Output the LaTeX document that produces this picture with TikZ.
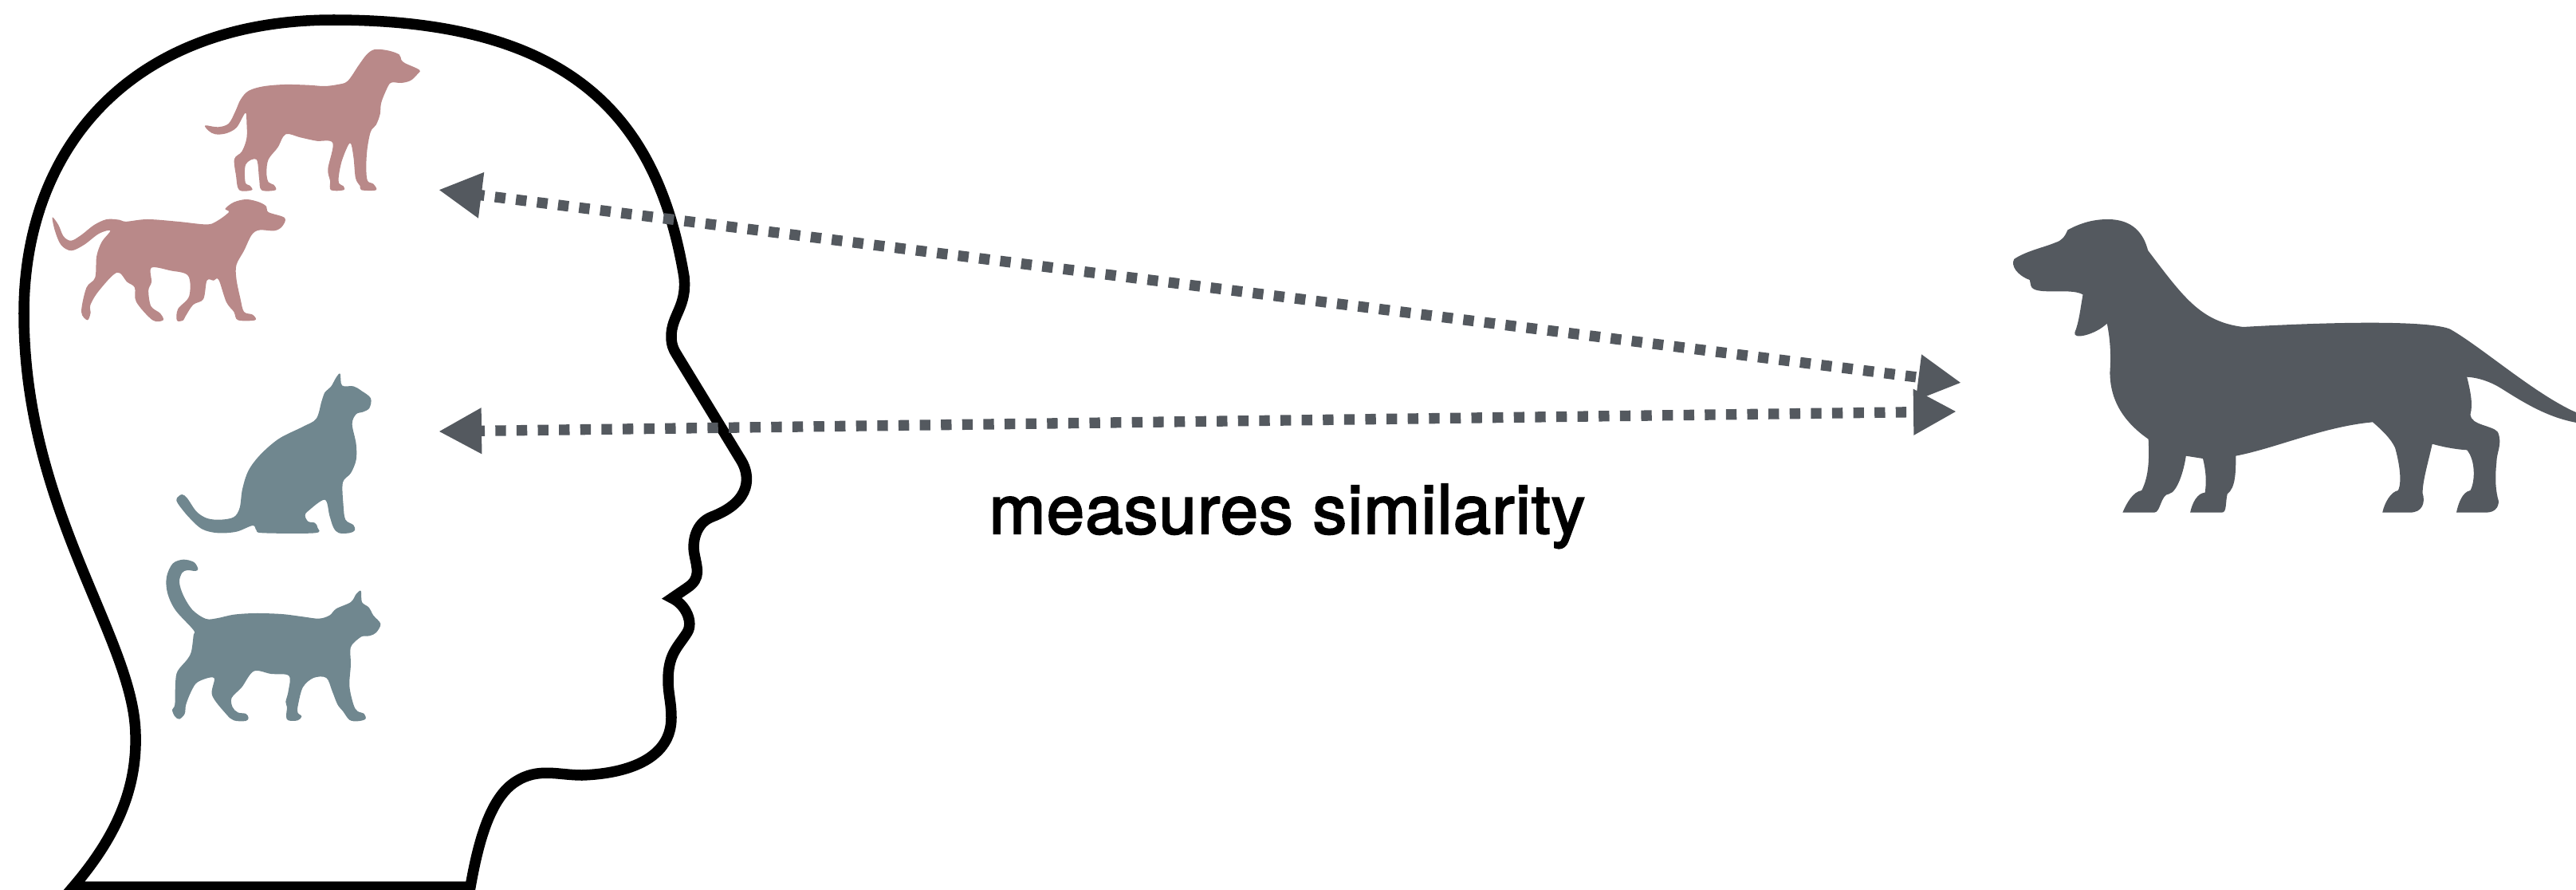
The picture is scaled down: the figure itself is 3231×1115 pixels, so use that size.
\documentclass[tikz,border=0pt]{standalone}
\usepackage{fontspec}
\usetikzlibrary{arrows.meta}
\newfontfamily\labelfont[FakeBold=2.5,LetterSpace=1.4]{TeX Gyre Heros}
\definecolor{dogpink}{HTML}{B98989}
\definecolor{catblue}{HTML}{70878F}
\definecolor{slate}{HTML}{54595F}

\begin{document}
\begin{tikzpicture}[>={Triangle[length=5.4mm,width=5.4mm]}, x=0.01cm, y=-0.01cm,
        dotline/.style={draw=slate, line width=1.33mm, dash pattern=on 1.33mm off 1.33mm, dash phase=0.6mm},
        outline/.style={draw=black, line width=1.35mm, line join=miter},
        smallplot/.style={smooth cycle, tension=0.55}]
        \useasboundingbox (0,0) rectangle (3231,1115);
        \coordinate (mem_dog) at (550,238);
        \coordinate (mem_cat) at (550,541);
        \coordinate (see_top) at (2460,480);
        \coordinate (see_low) at (2454,516);

        % head
        \path[outline] (92,1112) .. controls (145,1050) and (172,990) .. (170,921)
            .. controls (168,800) and (30,640) .. (30,393)
            .. controls (30,180) and (170,25) .. (418,25)
            .. controls (720,25) and (825,150) .. (858,347)
            .. controls (862,385) and (842,395) .. (842,422)
            .. controls (842,435) and (846,440) .. (852,450)
            -- (930,578)
            .. controls (940,595) and (945,628) .. (893,648)
            .. controls (872,656) and (868,680) .. (871,695)
            .. controls (874,712) and (880,725) .. (862,737)
            -- (843,750)
            .. controls (860,758) and (870,780) .. (862,793)
            .. controls (850,812) and (838,820) .. (838,853)
            .. controls (838,870) and (842,880) .. (842,900)
            .. controls (842,950) and (790,970) .. (730,972)
            .. controls (700,972) and (675,962) .. (647,980)
            .. controls (615,1000) and (600,1055) .. (590,1112)
            -- cycle;

        % dogs in the head
        \begin{scope}[shift={(180,40)}, scale=1/3]
            \path[fill=dogpink] plot[smallplot] coordinates {(232,352) (280,358) (320,345) (345,300) (365,255) (395,222) (450,205) (530,198) (620,200) (680,204) (730,198) (768,185) (810,125) (840,85) (870,66) (920,70) (962,85) (970,105) (985,118) (1038,143) (1030,160) (1005,183) (970,192) (935,190) (920,205) (895,265) (890,310) (875,350) (855,375) (842,440) (838,510) (843,560) (865,572) (875,595) (820,595) (815,580) (798,550) (790,470) (777,418) (748,480) (735,540) (736,570) (752,580) (753,595) (705,595) (702,560) (694,515) (712,418) (650,410) (590,397) (535,385) (505,435) (470,480) (463,530) (470,565) (490,575) (497,595) (444,595) (435,550) (425,480) (385,498) (383,565) (400,578) (408,595) (360,595) (348,540) (342,478) (370,450) (388,400) (388,340) (383,305) (350,360) (310,382) (270,385) (245,372)};
        \end{scope}
        \begin{scope}[xscale=1/1.568, yscale=1/2.8]
            \path[fill=dogpink] plot[smallplot] coordinates {(103,763) (115,790) (125,830) (140,845) (160,825) (185,790) (210,770) (235,772) (248,778) (290,770) (350,778) (405,788) (425,778) (450,745) (443,733) (460,710) (485,700) (510,710) (524,725) (528,745) (560,765) (555,795) (540,810) (510,808) (495,825) (480,880) (465,930) (465,980) (473,1050) (480,1095) (497,1105) (502,1124) (468,1124) (460,1095) (445,1060) (430,982) (420,985) (407,985) (400,1050) (380,1070) (365,1110) (360,1125) (348,1125) (350,1085) (372,1040) (370,968) (335,950) (298,940) (298,990) (292,1020) (297,1075) (315,1100) (321,1124) (300,1124) (268,1060) (265,1010) (250,990) (230,957) (195,1020) (178,1070) (178,1100) (172,1124) (160,1095) (170,1010) (187,975) (190,900) (200,850) (217,810) (195,820) (165,860) (140,880) (120,860) (108,810)};
        \end{scope}

        % cats in the head
        \begin{scope}[shift={(180,450)}, scale=1/3]
            \path[fill=catblue] plot[smallplot] coordinates {(125,525) (145,510) (165,525) (200,575) (240,600) (290,605) (340,595) (362,560) (372,490) (395,420) (440,360) (510,300) (600,255) (650,225) (670,160) (683,125) (705,105) (725,70) (740,56) (747,100) (790,103) (820,120) (855,148) (850,185) (825,200) (800,208) (785,245) (800,320) (800,380) (780,430) (750,465) (752,550) (760,605) (790,625) (795,645) (775,655) (735,655) (715,635) (700,590) (682,530) (620,572) (608,590) (620,612) (645,617) (655,635) (645,655) (450,655) (425,645) (411,627) (350,650) (280,655) (220,640) (170,595) (130,545)};
            \path[fill=catblue] plot[smallplot] coordinates {(205,790) (195,798) (165,795) (145,805) (135,840) (150,890) (185,945) (235,978) (280,975) (340,962) (420,957) (520,960) (600,970) (660,977) (700,965) (725,940) (780,915) (800,885) (818,873) (822,915) (848,935) (865,965) (892,997) (875,1030) (850,1042) (820,1045) (785,1075) (778,1100) (780,1150) (775,1230) (790,1300) (805,1325) (830,1335) (835,1355) (805,1363) (775,1358) (750,1325) (730,1300) (710,1250) (688,1200) (640,1200) (600,1235) (582,1300) (580,1330) (595,1345) (580,1360) (545,1360) (537,1345) (540,1310) (535,1290) (545,1250) (547,1192) (480,1185) (415,1175) (370,1235) (332,1275) (335,1310) (355,1330) (385,1335) (395,1350) (385,1362) (340,1360) (310,1335) (258,1265) (265,1200) (205,1215) (180,1250) (160,1300) (155,1335) (135,1355) (118,1345) (108,1320) (118,1300) (120,1220) (128,1175) (165,1130) (180,1100) (188,1040) (188,1020) (120,945) (90,880) (87,820) (110,770) (150,755) (190,765)};
        \end{scope}

        % the dog that is seen
        \begin{scope}[shift={(2400,240)}, xscale=1/1.887, yscale=1/3]
            \path[fill=slate] (365,145) .. controls (400,115) and (430,105) .. (460,105)
                .. controls (520,105) and (545,160) .. (555,222)
                .. controls (640,400) and (680,490) .. (780,510)
                .. controls (1000,490) and (1220,485) .. (1270,518)
                .. controls (1350,590) and (1490,790) .. (1590,845)
                -- (1590,875)
                .. controls (1510,860) and (1450,800) .. (1390,740)
                .. controls (1365,715) and (1335,700) .. (1310,698)
                .. controls (1318,750) and (1325,800) .. (1318,840)
                .. controls (1320,880) and (1370,880) .. (1383,905)
                .. controls (1395,950) and (1380,980) .. (1380,1020)
                .. controls (1376,1080) and (1378,1130) .. (1385,1165)
                .. controls (1385,1190) and (1375,1208) .. (1355,1208)
                -- (1285,1208)
                .. controls (1290,1170) and (1300,1130) .. (1318,1125)
                .. controls (1330,1090) and (1330,1010) .. (1310,973)
                .. controls (1280,970) and (1250,960) .. (1228,950)
                .. controls (1218,1020) and (1205,1090) .. (1205,1135)
                .. controls (1212,1170) and (1205,1208) .. (1175,1208)
                -- (1110,1208)
                .. controls (1115,1170) and (1130,1130) .. (1147,1125)
                .. controls (1158,1090) and (1148,1010) .. (1140,965)
                .. controls (1130,930) and (1110,900) .. (1087,868)
                .. controls (970,885) and (860,965) .. (763,995)
                .. controls (763,1060) and (762,1115) .. (743,1138)
                .. controls (738,1170) and (742,1208) .. (730,1208)
                -- (655,1208)
                .. controls (660,1170) and (672,1135) .. (690,1133)
                .. controls (694,1090) and (692,1050) .. (685,1005)
                -- (645,995)
                .. controls (640,1050) and (625,1130) .. (605,1138)
                .. controls (585,1140) and (585,1208) .. (570,1208)
                -- (495,1208)
                .. controls (505,1170) and (520,1130) .. (540,1125)
                .. controls (558,1070) and (558,1000) .. (556,932)
                .. controls (500,870) and (465,790) .. (465,680)
                .. controls (468,610) and (465,550) .. (458,497)
                .. controls (430,540) and (375,560) .. (382,530)
                .. controls (392,490) and (395,440) .. (401,388)
                .. controls (370,360) and (285,395) .. (278,355)
                -- (275,333)
                .. controls (245,315) and (230,280) .. (238,255)
                .. controls (265,225) and (310,210) .. (335,193)
                .. controls (352,185) and (358,170) .. (365,145) -- cycle;
        \end{scope}

        \node[anchor=base west, inner sep=0pt, font=\labelfont\fontsize{24.2pt}{29pt}\selectfont] (measure) at (1240,669) {measures similarity};

        \path[dotline,<->] (mem_dog) -- (see_top);
        \path[dotline,<->] (mem_cat) -- (see_low);
    \end{tikzpicture}
\end{document}
